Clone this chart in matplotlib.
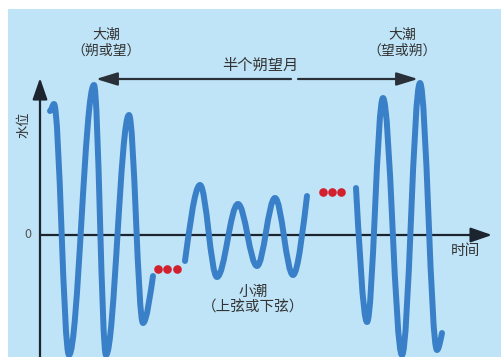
import matplotlib
matplotlib.use("Agg")
import matplotlib.pyplot as plt
from matplotlib.path import Path
from matplotlib.patches import PathPatch, Rectangle

plt.rcParams['font.family'] = ['Noto Sans CJK SC', 'DejaVu Sans']

# ---- data (pixel-space coordinates) ----
# wave segments: start point, extremes (peaks/troughs), end point
seg1_x = [50, 54, 69, 94, 106, 129, 143, 153]
seg1_y = [111, 104, 355, 85, 355, 115, 323, 276]
seg2_x = [185, 200, 217, 238, 257, 275, 293, 307]
seg2_y = [261, 185, 277, 204, 266, 198, 275, 196]
seg3_x = [356, 367, 383, 402, 420, 437, 442]
seg3_y = [188, 322, 98, 355, 83, 350, 333]

dots1_x = [158, 167, 177]
dots1_y = [269, 269, 269]
dots2_x = [323, 332, 341]
dots2_y = [192, 192, 192]

zero_y = 235
yaxis_x = 40

labels = {
    "big_left": "大潮\n（朔或望）",
    "big_right": "大潮\n（望或朔）",
    "half": "半个朔望月",
    "small": "小潮\n（上弦或下弦）",
    "ylabel": "水位",
    "xlabel": "时间",
    "zero": "0",
}

W, H = 501, 357
fig = plt.figure(figsize=(W / 100, H / 100), dpi=100)
ax = fig.add_axes([0, 0, 1, 1])
ax.set_xlim(0, W)
ax.set_ylim(H, 0)
ax.axis("off")

bg = "#bfe4f7"
ax.add_patch(Rectangle((8, 9), W - 8, H - 9, facecolor=bg, edgecolor="none", zorder=0))

wave_color = "#3a80c8"
K = 0.363


def wave_path(xs, ys, partial_start=False, partial_end=False):
    verts = [(xs[0], ys[0])]
    codes = [Path.MOVETO]
    n = len(xs)
    for i in range(n - 1):
        x0, y0, x1, y1 = xs[i], ys[i], xs[i + 1], ys[i + 1]
        dx = x1 - x0
        if i == 0 and partial_start:
            c1 = (x0 + 0.25 * dx, y0 + 0.35 * (y1 - y0))
        else:
            c1 = (x0 + K * dx, y0)
        if i == n - 2 and partial_end:
            c2 = (x1 - 0.25 * dx, y1 - 0.35 * (y1 - y0))
        else:
            c2 = (x1 - K * dx, y1)
        verts += [c1, c2, (x1, y1)]
        codes += [Path.CURVE4, Path.CURVE4, Path.CURVE4]
    return Path(verts, codes)


for xs, ys, ps, pe in [(seg1_x, seg1_y, False, True),
                       (seg2_x, seg2_y, True, True),
                       (seg3_x, seg3_y, True, True)]:
    p = PathPatch(wave_path(xs, ys, ps, pe), facecolor="none", edgecolor=wave_color,
                  lw=4.3, capstyle="round", joinstyle="round", zorder=3)
    ax.add_patch(p)

ax.plot(dots1_x, dots1_y, "o", color="#d3202e", ms=6.2, mec="none", zorder=4)
ax.plot(dots2_x, dots2_y, "o", color="#d3202e", ms=6.2, mec="none", zorder=4)

axis_color = "#1c2430"
# y axis
ax.annotate("", xy=(yaxis_x, 78), xytext=(yaxis_x, H + 2),
            arrowprops=dict(arrowstyle="-|>,head_length=1.3,head_width=0.45", color=axis_color,
                            lw=1.6, shrinkA=0, shrinkB=0), zorder=2)
# x axis
ax.annotate("", xy=(492, zero_y), xytext=(yaxis_x, zero_y),
            arrowprops=dict(arrowstyle="-|>,head_length=1.3,head_width=0.45", color=axis_color,
                            lw=1.6, shrinkA=0, shrinkB=0), zorder=2)

# half-month double arrow (with a small gap)
arr_color = "#2a3038"
ax.annotate("", xy=(96, 79), xytext=(291, 79),
            arrowprops=dict(arrowstyle="-|>,head_length=1.3,head_width=0.4", color=arr_color,
                            lw=1.6, shrinkA=0, shrinkB=0), zorder=2)
ax.annotate("", xy=(418, 79), xytext=(298, 79),
            arrowprops=dict(arrowstyle="-|>,head_length=1.3,head_width=0.4", color=arr_color,
                            lw=1.6, shrinkA=0, shrinkB=0), zorder=2)

tc = "#333333"
ax.text(106, 43, labels["big_left"], ha="center", va="center", fontsize=10, color=tc,
        linespacing=1.15)
ax.text(402, 43, labels["big_right"], ha="center", va="center", fontsize=10, color=tc,
        linespacing=1.15)
ax.text(260, 65, labels["half"], ha="center", va="center", fontsize=11, color=tc)
ax.text(253, 300, labels["small"], ha="center", va="center", fontsize=10.5, color=tc,
        linespacing=1.15)
ax.text(24, 125, labels["ylabel"], ha="center", va="center", fontsize=9.5, color=tc, rotation=90)
ax.text(465, 251, labels["xlabel"], ha="center", va="center", fontsize=10.5, color=tc)
ax.text(28, 234, labels["zero"], ha="center", va="center", fontsize=9, color="#555555")

fig.savefig("out.png", dpi=100)
